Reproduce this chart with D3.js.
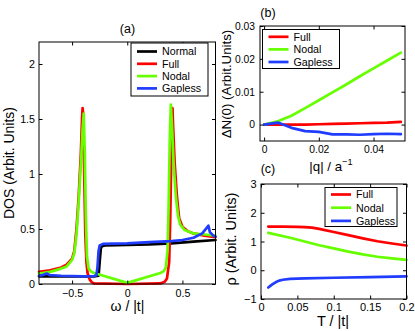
<!DOCTYPE html>
<html>
<head>
<meta charset="utf-8">
<script src="https://cdn.jsdelivr.net/npm/d3@7/dist/d3.min.js"></script>
<style>
  body { margin: 0; background: #fff; }
  svg { display: block; font-family: "Liberation Sans", Arial, sans-serif; }
  .frame { fill: none; stroke: #000; stroke-width: 1; }
  .series { fill: none; stroke-width: 2.7; stroke-linejoin: round; stroke-linecap: round; }
  .legend_box { fill: #fff; stroke: #000; stroke-width: 1; }
</style>
</head>
<body>
<div id="chart"></div>
<script>
var colors = { Normal: "#000000", Full: "#ff0000", Nodal: "#66ff00", Gapless: "#1f3cff" }

// (a) DOS vs omega / |t|
var dosNormal = [[-0.8,0.07],[-0.5,0.07],[-0.3,0.07],[-0.26,0.075],[-0.25,0.2],[-0.24,0.32],[-0.23,0.345],[-0.2,0.35],[0,0.355],[0.2,0.36],[0.4,0.37],[0.6,0.385],[0.8,0.4]]
var dosFull = [[-0.8,0.11],[-0.7,0.125],[-0.6,0.15],[-0.55,0.175],[-0.5,0.23],[-0.48,0.3],[-0.46,0.5],[-0.44,0.8],[-0.42,1.2],[-0.41,1.5],[-0.405,1.6],[-0.4,1.55],[-0.39,1.0],[-0.38,0.45],[-0.37,0.2],[-0.36,0.1],[-0.34,0.04],[-0.32,0.015],[-0.3,0.005],[0,0],[0.3,0.005],[0.34,0.02],[0.36,0.05],[0.38,0.2],[0.39,0.6],[0.4,1.2],[0.405,1.55],[0.41,1.6],[0.415,1.45],[0.43,1.1],[0.45,0.8],[0.47,0.6],[0.5,0.52],[0.55,0.48],[0.6,0.46],[0.7,0.44],[0.8,0.425]]
var dosNodal = [[-0.8,0.095],[-0.7,0.11],[-0.6,0.14],[-0.55,0.16],[-0.5,0.22],[-0.48,0.28],[-0.46,0.45],[-0.44,0.75],[-0.42,1.1],[-0.405,1.4],[-0.395,1.55],[-0.385,1.2],[-0.375,0.6],[-0.365,0.25],[-0.35,0.14],[-0.33,0.115],[-0.3,0.1],[0,0.01],[0.3,0.1],[0.33,0.115],[0.35,0.15],[0.365,0.3],[0.375,0.7],[0.385,1.3],[0.395,1.63],[0.405,1.45],[0.42,1.1],[0.44,0.8],[0.46,0.62],[0.48,0.54],[0.52,0.49],[0.6,0.46],[0.7,0.45],[0.8,0.44]]
var dosGapless = [[-0.8,0.075],[-0.77,0.08],[-0.73,0.095],[-0.7,0.08],[-0.6,0.075],[-0.4,0.07],[-0.3,0.072],[-0.28,0.08],[-0.27,0.15],[-0.26,0.3],[-0.25,0.35],[-0.22,0.365],[0,0.37],[0.2,0.38],[0.4,0.39],[0.5,0.4],[0.6,0.42],[0.68,0.46],[0.72,0.51],[0.735,0.53],[0.75,0.47],[0.78,0.44],[0.8,0.43]]

// (b) Delta N(0) vs |q|
var dnFull = [[0,0],[0.005,0],[0.01,0],[0.015,0],[0.02,0.0001],[0.025,0.0002],[0.03,0.0003],[0.035,0.0004],[0.04,0.0005],[0.045,0.0006],[0.05,0.0008]]
var dnNodal = [[0,0],[0.005,0.001],[0.01,0.0027],[0.015,0.005],[0.02,0.0074],[0.025,0.0098],[0.03,0.0122],[0.035,0.0147],[0.04,0.0171],[0.045,0.0195],[0.05,0.0219]]
var dnGapless = [[0,0],[0.005,0.0006],[0.01,-0.001],[0.015,-0.002],[0.02,-0.0022],[0.025,-0.003],[0.03,-0.003],[0.035,-0.0031],[0.04,-0.0029],[0.045,-0.0028],[0.05,-0.0029]]

// (c) rho vs T / |t|
var rhoFull = [[0.01,1.52],[0.03,1.52],[0.05,1.51],[0.06,1.5],[0.07,1.48],[0.08,1.44],[0.1,1.33],[0.12,1.22],[0.14,1.11],[0.16,1.01],[0.18,0.93],[0.2,0.86]]
var rhoNodal = [[0.01,1.3],[0.04,1.13],[0.06,1.0],[0.08,0.87],[0.1,0.76],[0.12,0.65],[0.14,0.55],[0.16,0.47],[0.18,0.41],[0.2,0.36]]
var rhoGapless = [[0.01,-0.6],[0.015,-0.5],[0.02,-0.42],[0.025,-0.36],[0.03,-0.33],[0.04,-0.3],[0.06,-0.28],[0.1,-0.26],[0.15,-0.24],[0.2,-0.21]]

var ticksA_x = [-0.5, 0, 0.5], ticksA_y = [0, 0.5, 1, 1.5, 2]
var ticksB_x = [0, 0.02, 0.04], ticksB_y = [0, 0.01, 0.02, 0.03]
var ticksC_x = [0, 0.05, 0.1, 0.15, 0.2], ticksC_y = [-1, 0, 1, 2, 3]

var svg = d3.select("#chart").append("svg")
  .attr("width", 415)
  .attr("height", 331)

function drawPanel(p) {
  var x = d3.scaleLinear().domain(p.xDomain).range([p.left, p.right])
  var y = d3.scaleLinear().domain(p.yDomain).range([p.bottom, p.top])
  var fmt = d3.format("~g")
  var g = svg.append("g")

  var line = d3.line()
    .x(function (d) { return x(d[0]) })
    .y(function (d) { return y(d[1]) })

  p.series.forEach(function (s) {
    g.append("path")
      .attr("class", "series")
      .attr("stroke", colors[s.name])
      .attr("d", line(s.data))
  })

  // tick marks point inward, mirrored on top and right like the original
  var tk = 3.5
  var blank = function () { return "" }
  var axes = [
    [d3.axisBottom(x).tickValues(p.xTicks).tickFormat(fmt).tickPadding(p.xPad), "translate(0," + p.bottom + ")"],
    [d3.axisTop(x).tickValues(p.xTicks).tickFormat(blank), "translate(0," + p.top + ")"],
    [d3.axisLeft(y).tickValues(p.yTicks).tickFormat(fmt).tickPadding(p.yPad), "translate(" + p.left + ",0)"],
    [d3.axisRight(y).tickValues(p.yTicks).tickFormat(blank), "translate(" + p.right + ",0)"]
  ]
  axes.forEach(function (a) {
    var ax = g.append("g")
      .attr("transform", a[1])
      .call(a[0].tickSizeInner(-tk).tickSizeOuter(0))
    ax.select(".domain").remove()
    ax.attr("font-family", null).attr("font-size", p.tickFont)
    ax.selectAll("text").attr("fill", "#000")
    ax.selectAll("line").attr("stroke", "#000")
  })

  g.append("rect")
    .attr("class", "frame")
    .attr("x", p.left)
    .attr("y", p.top)
    .attr("width", p.right - p.left)
    .attr("height", p.bottom - p.top)

  // legend
  var L = p.legend
  g.append("rect")
    .attr("class", "legend_box")
    .attr("x", L.x)
    .attr("y", L.y)
    .attr("width", L.w)
    .attr("height", L.h)
  p.series.forEach(function (s, i) {
    var cy = L.y + L.first + i * L.step
    g.append("line")
      .attr("x1", L.x + 6).attr("x2", L.x + 26)
      .attr("y1", cy).attr("y2", cy)
      .attr("stroke", colors[s.name])
      .attr("stroke-width", 2.7)
    g.append("text")
      .attr("x", L.x + 31)
      .attr("y", cy + 3.8)
      .attr("font-size", 10.7)
      .text(s.name)
  })

  g.append("text")
    .attr("x", p.title[0]).attr("y", p.title[1])
    .attr("text-anchor", "middle")
    .attr("font-size", 12.5)
    .text(p.title[2])

  var xl = g.append("text")
    .attr("x", p.xLabel[0]).attr("y", p.xLabel[1])
    .attr("text-anchor", "middle")
    .attr("font-size", p.labelFont)
  xl.append("tspan").text(p.xLabel[2])
  if (p.xLabel[3]) {
    xl.append("tspan").attr("dy", -6).attr("font-size", p.labelFont * 0.7).text(p.xLabel[3])
  }

  g.append("text")
    .attr("transform", "translate(" + p.yLabel[0] + "," + p.yLabel[1] + ") rotate(-90)")
    .attr("text-anchor", "middle")
    .attr("font-size", p.labelFont)
    .text(p.yLabel[2])
}

drawPanel({
  left: 39, right: 215.5, top: 42, bottom: 284,
  xDomain: [-0.8, 0.8], yDomain: [0, 2.2],
  xTicks: ticksA_x, yTicks: ticksA_y, xPad: 5, yPad: 4, tickFont: 10.7,
  series: [
    { name: "Normal", data: dosNormal },
    { name: "Full", data: dosFull },
    { name: "Nodal", data: dosNodal },
    { name: "Gapless", data: dosGapless }
  ],
  legend: { x: 131, y: 43, w: 77, h: 53, first: 8.5, step: 12.3 },
  title: [127.5, 33, "(a)"],
  xLabel: [127.5, 311, "\u03c9 / |t|"],
  yLabel: [14, 163, "DOS (Arbit. Units)"],
  labelFont: 14
})

drawPanel({
  left: 260, right: 405, top: 26, bottom: 141,
  xDomain: [-0.0015, 0.0515], yDomain: [-0.005, 0.03],
  xTicks: ticksB_x, yTicks: ticksB_y, xPad: 5, yPad: 5, tickFont: 10.3,
  series: [
    { name: "Full", data: dnFull },
    { name: "Nodal", data: dnNodal },
    { name: "Gapless", data: dnGapless }
  ],
  legend: { x: 262.5, y: 29.5, w: 77, h: 39, first: 7.3, step: 12.6 },
  title: [268, 17, "(b)"],
  xLabel: [331, 171, "|q| / a", "\u22121"],
  yLabel: [231, 84, "\u0394N(0) (Arbit.Units)"],
  labelFont: 13.3
})

drawPanel({
  left: 261, right: 406.5, top: 184, bottom: 299,
  xDomain: [0, 0.2], yDomain: [-1, 3],
  xTicks: ticksC_x, yTicks: ticksC_y, xPad: 4, yPad: 4.5, tickFont: 11,
  series: [
    { name: "Full", data: rhoFull },
    { name: "Nodal", data: rhoNodal },
    { name: "Gapless", data: rhoGapless }
  ],
  legend: { x: 325, y: 187.5, w: 72, h: 39, first: 7, step: 13.2 },
  title: [268, 173, "(c)"],
  xLabel: [333, 326, "T / |t|"],
  yLabel: [235.5, 239, "\u03c1 (Arbit. Units)"],
  labelFont: 14.5
})
</script>
</body>
</html>
